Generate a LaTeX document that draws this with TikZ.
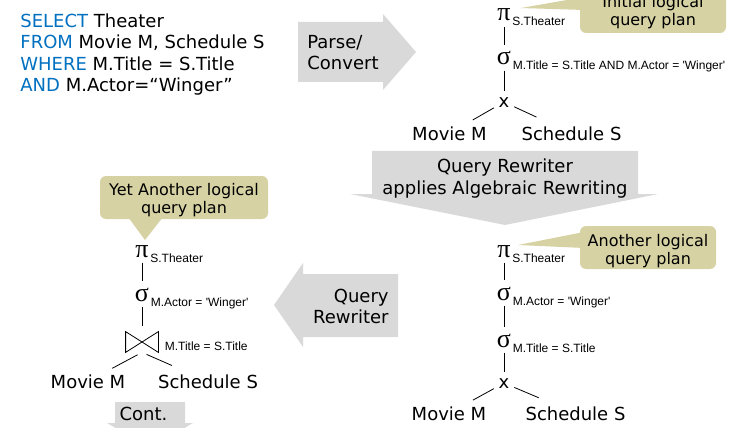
\documentclass[tikz,border=0pt]{standalone}
\usepackage{fontspec}
\setmainfont{DejaVu Sans}
\newfontfamily\subfont{Liberation Sans}
\newfontfamily\greekfont{Liberation Serif}
\usepackage{xcolor}
\definecolor{sqlblue}{RGB}{0,112,192}
\definecolor{arrowgray}{RGB}{217,217,217}
\definecolor{noteolive}{RGB}{214,210,163}
\tikzset{
  op/.style={font=\greekfont\fontsize{26}{30}\selectfont, inner sep=0pt, anchor=base},
  cross/.style={font=\fontsize{18}{21}\selectfont, inner sep=0pt, anchor=base},
  sub/.style={font=\subfont\fontsize{12}{14}\selectfont, inner sep=0pt, anchor=base west},
  leaf/.style={inner sep=0pt, anchor=base},
  link/.style={shorten <=5pt, shorten >=6pt},
  lbranch/.style={shorten <=5pt, shorten >=12pt},
  rbranch/.style={shorten <=5pt, shorten >=21pt},
  bigarrow/.style={fill=arrowgray},
  note/.style={fill=noteolive},
  notebox/.style={fill=noteolive, rounded corners=6pt},
  notetext/.style={font=\fontsize{16}{18}\selectfont, align=center, inner sep=0pt, anchor=north},
  arrowtext/.style={inner sep=0pt}
}

\begin{document}
\begin{tikzpicture}[x=1pt,y=1pt,font=\fontsize{18}{21.5}\selectfont,line width=0.8pt]
\useasboundingbox (0,0) rectangle (732,-428);

\node[anchor=north west, inner sep=0pt, align=left] (sql) at (20,-13.3)
  {{\color{sqlblue}SELECT} Theater\\
   {\color{sqlblue}FROM} Movie M, Schedule S\\
   {\color{sqlblue}WHERE} M.Title = S.Title\\
   {\color{sqlblue}AND} M.Actor=“Winger”};

\fill[bigarrow] (298,-22) -- (383,-22) -- (383,-14) -- (416,-52) -- (383,-90) -- (383,-82) -- (298,-82) -- cycle;
\node[arrowtext, anchor=north west, align=left] (parse) at (307,-34.5) {Parse/\\Convert};

\fill[bigarrow] (372,-151) -- (638,-151) -- (638,-194) -- (658,-194) -- (505,-225) -- (350,-194) -- (372,-194) -- cycle;
\node[arrowtext, anchor=north, align=center] (rewrite) at (505,-158.5) {Query Rewriter\\applies Algebraic Rewriting};

\fill[bigarrow] (398,-274) -- (303,-274) -- (303,-263) -- (274,-305) -- (303,-347) -- (303,-337) -- (398,-337) -- cycle;
\node[arrowtext, anchor=north east, align=right] (rewriter) at (389,-288.5) {Query\\Rewriter};

\fill[bigarrow] (115,-402) -- (185,-402) -- (185,-423) -- (193,-423) -- (150,-448) -- (107,-423) -- (115,-423) -- cycle;
\node[arrowtext, anchor=base] (cont) at (143.5,-420) {Cont.};

\fill[notebox] (580,12) rectangle (726,-33);
\fill[note] (521,-8) -- (584,3) -- (584,-10) -- cycle;
\node[notetext] (noteA) at (653,5.2) {Initial logical\\query plan};

\fill[notebox] (580,-226) rectangle (716,-269);
\fill[note] (518,-245) -- (584,-232) -- (584,-248) -- cycle;
\node[notetext] (noteB) at (648,-233.8) {Another logical\\query plan};

\fill[notebox] (100,-176) rectangle (268,-219);
\fill[note] (128,-217) -- (163,-217) -- (145,-240) -- cycle;
\node[notetext] (noteC) at (184,-182.8) {Yet Another logical\\query plan};

\node[op] (piA) at (504,-21) {π};
\node[sub] (piAsub) at ([xshift=1pt,yshift=-5pt]piA.base east) {S.Theater};
\node[op] (sigA) at (504,-65) {σ};
\node[sub] (sigAsub) at ([xshift=1pt,yshift=-5pt]sigA.base east) {M.Title = S.Title AND M.Actor = 'Winger'};
\node[cross] (xA) at (504,-107) {x};
\node[leaf] (movA) at (449.5,-140) {Movie M};
\node[leaf] (schA) at (571.5,-140) {Schedule S};
\draw[link] (piA) -- (sigA);
\draw[link] (sigA) -- (xA);
\draw[lbranch] (xA) -- (movA);
\draw[rbranch] (xA) -- (schA);

\node[op] (piB) at (504,-257) {π};
\node[sub] (piBsub) at ([xshift=1pt,yshift=-5pt]piB.base east) {S.Theater};
\node[op] (sigB) at (504,-300) {σ};
\node[sub] (sigBsub) at ([xshift=1pt,yshift=-5pt]sigB.base east) {M.Actor = 'Winger'};
\node[op] (sigBB) at (504,-347) {σ};
\node[sub] (sigBBsub) at ([xshift=1pt,yshift=-5pt]sigBB.base east) {M.Title = S.Title};
\node[cross] (xB) at (504,-388) {x};
\node[leaf] (movB) at (449,-420) {Movie M};
\node[leaf] (schB) at (575.5,-420) {Schedule S};
\draw[link] (piB) -- (sigB);
\draw[link] (sigB) -- (sigBB);
\draw[link] (sigBB) -- (xB);
\draw[lbranch] (xB) -- (movB);
\draw[rbranch] (xB) -- (schB);

\node[op] (piC) at (142,-257) {π};
\node[sub] (piCsub) at ([xshift=1pt,yshift=-5pt]piC.base east) {S.Theater};
\node[op] (sigC) at (142,-301) {σ};
\node[sub] (sigCsub) at ([xshift=1pt,yshift=-5pt]sigC.base east) {M.Actor = 'Winger'};
\node[minimum width=32pt, minimum height=20pt, inner sep=0pt] (joinC) at (142,-342) {};
\draw (joinC.north west) -- (joinC.south east) -- (joinC.north east) -- (joinC.south west) -- cycle;
\node[sub] (joinCsub) at ([xshift=6pt,yshift=-8pt]joinC.east) {M.Title = S.Title};
\node[leaf] (movC) at (88,-388) {Movie M};
\node[leaf] (schC) at (208,-388) {Schedule S};
\draw[link] (piC) -- (sigC);
\draw[link] (sigC) -- (joinC);
\draw[lbranch] (joinC.south) -- (movC);
\draw[rbranch] (joinC.south) -- (schC);
\end{tikzpicture}
\end{document}
